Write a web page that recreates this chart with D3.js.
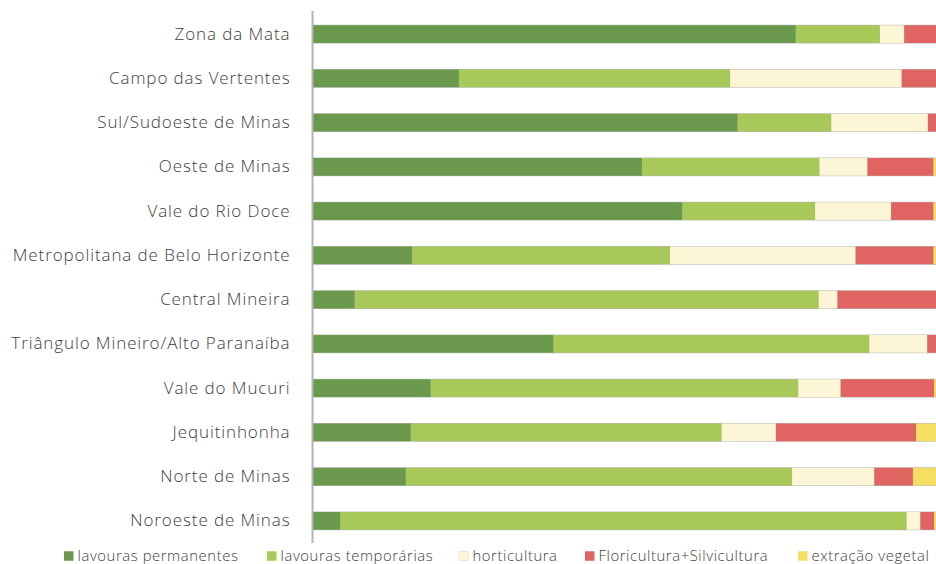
<!DOCTYPE html>
<html>
<head>
<meta charset="utf-8">
<script src="https://cdn.jsdelivr.net/npm/d3@7"></script>
<style>
  html, body { margin: 0; padding: 0; background: #fff; }
  svg { display: block; font-family: "Open Sans", sans-serif; }
</style>
</head>
<body>
<svg id="chart" width="936" height="564"></svg>
<script>
// Regions of Minas Gerais, top to bottom
const regions = [
  "Zona da Mata",
  "Campo das Vertentes",
  "Sul/Sudoeste de Minas",
  "Oeste de Minas",
  "Vale do Rio Doce",
  "Metropolitana de Belo Horizonte",
  "Central Mineira",
  "Triângulo Mineiro/Alto Paranaíba",
  "Vale do Mucuri",
  "Jequitinhonha",
  "Norte de Minas",
  "Noroeste de Minas"
];

// Share (%) of each activity per region
const lavourasPermanentes = [77.5, 23.4, 68.1, 52.8, 59.3, 15.9, 6.7, 38.6, 18.9, 15.7, 14.9, 4.4];
const lavourasTemporarias = [13.5, 43.5, 15.0, 28.5, 21.3, 41.4, 74.4, 50.7, 59.0, 49.9, 62.0, 90.8];
const horticultura        = [3.9, 27.5, 15.5, 7.7, 12.2, 29.8, 3.0, 9.3, 6.8, 8.7, 13.2, 2.2];
const floriSilvicultura   = [5.1, 5.5, 1.3, 10.6, 6.8, 12.5, 15.8, 1.4, 15.0, 22.5, 6.2, 2.2];
const extracaoVegetal     = [0.0, 0.0, 0.0, 0.4, 0.4, 0.4, 0.0, 0.0, 0.3, 3.2, 3.7, 0.3];

const seriesNames = ["lavouras permanentes", "lavouras temporárias", "horticultura", "Floricultura+Silvicultura", "extração vegetal"];
const seriesColors = ["#6a994d", "#a8c95a", "#fcf5d6", "#e06562", "#f6de62"];
const seriesValues = [lavourasPermanentes, lavourasTemporarias, horticultura, floriSilvicultura, extracaoVegetal];

const keys = d3.range(seriesNames.length).map(String);
const rows = regions.map((r, i) => {
  const o = { region: r };
  seriesValues.forEach((s, k) => { o[k] = s[i]; });
  return o;
});

const stack = d3.stack().keys(keys).offset(d3.stackOffsetExpand);
const layers = stack(rows);

const svg = d3.select("#chart");
const x0 = 313, x1 = 936;
const x = d3.scaleLinear().domain([0, 1]).range([x0, x1]);
const y = d3.scaleBand().domain(regions).range([12, 543]).paddingInner(0.6).paddingOuter(0.3);

// Row frames with a soft grey edge
svg.append("g").selectAll("rect")
  .data(regions)
  .join("rect")
  .attr("x", x(0))
  .attr("y", d => y(d) - 0.5)
  .attr("width", x(1) - x(0))
  .attr("height", y.bandwidth() + 1)
  .attr("fill", "#b8b8b8");

svg.append("g").selectAll("g")
  .data(layers)
  .join("g")
  .attr("fill", (d, i) => seriesColors[i])
  .selectAll("rect")
  .data(d => d)
  .join("rect")
  .attr("x", d => x(d[0]))
  .attr("y", d => y(d.data.region))
  .attr("width", d => Math.max(0, x(d[1]) - x(d[0])))
  .attr("height", y.bandwidth());

// Category axis
const yAxis = d3.axisLeft(y).tickSize(0).tickPadding(22);
const ag = svg.append("g").attr("transform", `translate(${x0 - 0.5},0)`).call(yAxis);
ag.select(".domain").attr("stroke", "#b3b3b3").attr("stroke-width", 2).attr("d", "M0,11V543");
ag.selectAll("text")
  .attr("fill", "#404040")
  .style("font-size", "17px")
  .style("font-weight", "300")
  .style("letter-spacing", "0.9px")
  .style("font-family", "'Open Sans', sans-serif");

// Legend
const legendX = [64, 267, 459, 585, 798];
const lg = svg.append("g").selectAll("g")
  .data(seriesNames)
  .join("g")
  .attr("transform", (d, i) => `translate(${legendX[i]},556)`);
lg.append("rect")
  .attr("x", 0).attr("y", -4.75).attr("width", 9.5).attr("height", 9.5)
  .attr("fill", (d, i) => seriesColors[i])
  .attr("stroke", (d, i) => i === 2 ? "#e8e2c0" : "none")
  .attr("stroke-width", 0.6);
lg.append("text")
  .attr("x", 13.5)
  .attr("dy", "0.35em")
  .attr("fill", "#404040")
  .style("font-size", "14.8px")
  .style("font-weight", "300")
  .style("letter-spacing", "0.6px")
  .text(d => d);
</script>
</body>
</html>
